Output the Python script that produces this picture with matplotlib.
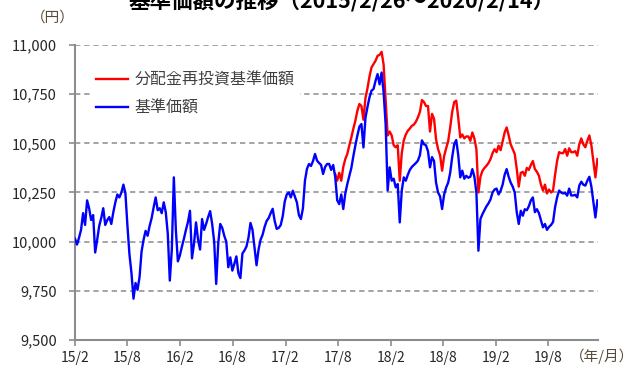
import numpy as np
import pandas as pd
import matplotlib
matplotlib.use("Agg")
import matplotlib.pyplot as plt
from matplotlib.lines import Line2D

plt.rcParams['font.family'] = ['Noto Sans CJK JP', 'DejaVu Sans']

# weekly data 2015/2/26 - 2020/2/14
start_date = "2015-02-26"
end_date = "2020-02-14"

# 基準価額 (円)
nav = [
    10015, 9985, 10020, 10060, 10145, 10085, 10210, 10170, 10110, 10135,
    9945, 10010, 10080, 10120, 10170, 10085, 10110, 10125, 10090, 10150,
    10200, 10240, 10225, 10250, 10290, 10245, 10080, 9935, 9840, 9710,
    9790, 9755, 9820, 9950, 10010, 10055, 10030, 10080, 10120, 10175,
    10225, 10160, 10170, 10145, 10200, 10150, 10040, 9802, 9960, 10327,
    10060, 9900, 9930, 9975, 10015, 10060, 10100, 10157, 9915, 9990,
    10098, 10010, 9960, 10115, 10060, 10090, 10125, 10155, 10090, 10000,
    9785, 9990, 10090, 10070, 10030, 10000, 9870, 9920, 9853, 9887,
    9925, 9840, 9815, 9940, 9955, 9975, 10020, 10095, 10060, 9970,
    9880, 9960, 10010, 10035, 10075, 10105, 10120, 10145, 10167, 10105,
    10065, 10070, 10085, 10130, 10205, 10240, 10250, 10225, 10259, 10230,
    10200, 10135, 10115, 10170, 10310, 10370, 10395, 10385, 10410, 10446,
    10412, 10400, 10390, 10344, 10380, 10395, 10395, 10365, 10390, 10330,
    10210, 10191, 10240, 10166, 10245, 10293, 10335, 10375, 10435, 10490,
    10540, 10585, 10598, 10479, 10630, 10685, 10734, 10768, 10776, 10818,
    10852, 10800, 10860, 10760, 10598, 10260, 10378, 10310, 10320, 10276,
    10293, 10098, 10260, 10327, 10310, 10340, 10365, 10380, 10390, 10400,
    10412, 10440, 10515, 10495, 10490, 10460, 10378, 10430, 10410, 10300,
    10250, 10230, 10166, 10240, 10275, 10300, 10350, 10430, 10495, 10517,
    10440, 10327, 10361, 10320, 10335, 10325, 10330, 10369, 10330, 10250,
    9954, 10115, 10140, 10160, 10180, 10195, 10215, 10250, 10265, 10270,
    10240, 10259, 10290, 10340, 10369, 10330, 10300, 10280, 10250, 10150,
    10090, 10157, 10132, 10165, 10160, 10180, 10210, 10225, 10150, 10165,
    10145, 10110, 10073, 10090, 10060, 10075, 10085, 10100, 10175, 10225,
    10260, 10250, 10245, 10248, 10234, 10270, 10235, 10235, 10238, 10225,
    10285, 10305, 10290, 10285, 10310, 10330, 10280, 10200, 10123, 10210,
]

# 分配金再投資基準価額 (円) - same as nav until the first payout, listed from there on
nav_reinvested = [
    10344, 10310, 10350, 10310, 10380, 10420, 10446, 10490, 10530, 10575,
    10615, 10666, 10700, 10690, 10620, 10730, 10780, 10840, 10886, 10903,
    10920, 10945, 10950, 10965, 10900, 10720, 10540, 10560, 10540, 10490,
    10480, 10490, 10310, 10450, 10515, 10545, 10564, 10575, 10589, 10595,
    10610, 10632, 10660, 10720, 10710, 10690, 10690, 10560, 10650, 10625,
    10520, 10470, 10440, 10361, 10435, 10475, 10510, 10580, 10660, 10710,
    10717, 10630, 10530, 10545, 10525, 10535, 10535, 10513, 10555, 10525,
    10470, 10250, 10330, 10360, 10375, 10386, 10400, 10420, 10450, 10470,
    10455, 10488, 10465, 10510, 10555, 10581, 10540, 10495, 10470, 10446,
    10370, 10280, 10350, 10355, 10335, 10375, 10365, 10390, 10410, 10369,
    10355, 10335, 10290, 10260, 10290, 10245, 10265, 10250, 10260, 10340,
    10410, 10455, 10450, 10450, 10471, 10437, 10475, 10455, 10455, 10460,
    10437, 10495, 10525, 10495, 10480, 10513, 10540, 10490, 10410, 10327,
    10420,
]

x_tick_labels = ["15/2", "15/8", "16/2", "16/8", "17/2", "17/8", "18/2", "18/8", "19/2", "19/8"]
y_ticks = [9500, 9750, 10000, 10250, 10500, 10750, 11000]

dates = pd.date_range(start_date, end_date, periods=len(nav))
tick_dates = [pd.Timestamp(start_date) + pd.DateOffset(months=6 * k) for k in range(len(x_tick_labels))]

fig = plt.figure(figsize=(6.36, 3.67), dpi=100)
ax = fig.add_axes([75 / 636, 27 / 367, 523 / 636, 295 / 367])

ax.plot(dates[-len(nav_reinvested):], nav_reinvested, color="#ff0000", lw=1.7, zorder=3)
ax.plot(dates, nav, color="#0000ff", lw=1.7, zorder=4)

ax.set_ylim(9500, 11000)
ax.set_xlim(pd.Timestamp(start_date), pd.Timestamp(end_date) + pd.Timedelta(days=2))
ax.set_yticks(y_ticks)
ax.set_yticklabels([f"{v:,}" for v in y_ticks])
ax.set_xticks(tick_dates)
ax.set_xticklabels(x_tick_labels)

ax.yaxis.grid(True, linestyle=(0, (3.5, 2.5)), color="#8c8c8c", lw=1.1)
ax.set_axisbelow(True)
for s in ["top", "right"]:
    ax.spines[s].set_visible(False)
for s in ["left", "bottom"]:
    ax.spines[s].set_color("#8c8c8c")
    ax.spines[s].set_linewidth(1.5)
ax.tick_params(axis="both", direction="out", length=4, width=1.2, color="#8c8c8c",
               labelsize=10.5, labelcolor="#262626")
ax.tick_params(axis="y", pad=9)
ax.tick_params(axis="x", pad=4, labelsize=10)

handles = [Line2D([], [], color="#ff0000", lw=1.7), Line2D([], [], color="#0000ff", lw=1.7)]
leg = ax.legend(handles, ["分配金再投資基準価額", "基準価額"], loc="upper left",
                bbox_to_anchor=(15 / 523, 0.928), borderaxespad=0, frameon=True,
                facecolor="white", edgecolor="none", framealpha=1, fancybox=False,
                fontsize=11.5, handlelength=2.0, handletextpad=0.45, labelspacing=0.7,
                borderpad=0.35)
for t in leg.get_texts():
    t.set_color("#404040")
leg.set_zorder(5)

fig.text(342 / 636, 1 - 8 / 367, "基準価額の推移（2015/2/26～2020/2/14）", ha="center", va="baseline",
         fontsize=15.5, fontweight="bold", color="black")
fig.text(53 / 636, 1 - 18 / 367, "（円）", ha="center", va="center", fontsize=10.5, color="#5a4a3a")
fig.text(634 / 636, 1 - 356 / 367, "（年/月）", ha="right", va="center", fontsize=10.5, color="#5a4a3a")

fig.savefig("out.png", dpi=100)
